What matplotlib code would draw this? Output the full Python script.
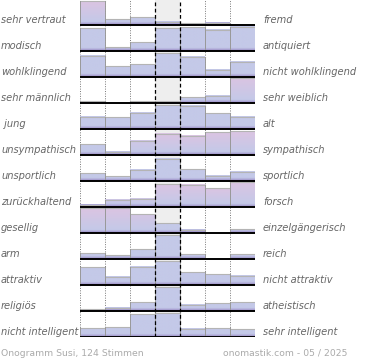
import numpy as np
import matplotlib
matplotlib.use("Agg")
import matplotlib.pyplot as plt
from matplotlib.patches import Rectangle
from matplotlib.transforms import blended_transform_factory
from matplotlib.colors import to_rgb

# Eigenschaftspaare (links / rechts)
links = ["sehr vertraut", "modisch", "wohlklingend", "sehr männlich", " jung",
         "unsympathisch", "unsportlich", "zurückhaltend", "gesellig", "arm",
         "attraktiv", "religiös", "nicht intelligent"]
rechts = ["fremd", "antiquiert", "nicht wohlklingend", "sehr weiblich", "alt",
          "sympathisch", "sportlich", "forsch", "einzelgängerisch", "reich",
          "nicht attraktiv", "atheistisch", "sehr intelligent"]

# Balkenhoehen je Zeile, 7 Stufen (in % der Zeilenhoehe)
werte = [
    [92, 22, 30, 13, 7, 9, 0],
    [87, 14, 33, 87, 91, 81, 93],
    [81, 42, 50, 92, 77, 27, 58],
    [6, 0, 6, 6, 23, 27, 98],
    [48, 46, 63, 92, 90, 60, 48],
    [41, 13, 55, 81, 74, 87, 91],
    [29, 19, 44, 85, 46, 21, 35],
    [8, 27, 31, 88, 85, 73, 98],
    [96, 96, 73, 38, 12, 0, 15],
    [23, 15, 38, 92, 19, 0, 19],
    [69, 31, 71, 92, 50, 42, 35],
    [6, 13, 33, 92, 25, 29, 33],
    [33, 38, 87, 92, 31, 33, 29],
]

# Rosa-Anteil der Balkenfarbe (0 = blau, 1 = rosa)
rosa = [
    [1, 0, 0, 0, 0, 0, 0],
    [0, 0, 0, 0, 0, 0, 0],
    [0, 0, 0, 0, 0, 0, 0],
    [0, 0, 0, 0, 0, 0, 1],
    [0, 0, 0, 0, 0, 0, 0],
    [0, 0, 0.5, 1, 1, 1, 1],
    [0, 0, 0, 0, 0, 0, 0],
    [0, 0.5, 0.5, 1, 1, 1, 1],
    [1, 1, 0.7, 0, 0, 0, 0],
    [0, 0, 0, 0, 0, 0, 0],
    [0, 0, 0, 0, 0, 0, 0],
    [0, 0, 0, 0, 0, 0, 0],
    [0, 0, 0, 0, 0, 0, 0],
]

titel_links = "Onogramm Susi, 124 Stimmen"
titel_rechts = "onomastik.com - 05 / 2025"

PINK = np.array(to_rgb("#dbc4e2"))
BLAU = np.array(to_rgb("#c4c9e8"))
LILA = np.array(to_rgb("#9482c0"))

W, H = 370, 360
fig = plt.figure(figsize=(W / 100, H / 100), dpi=100)
ax = fig.add_axes([79.5 / W, 23 / H, 175 / W, 337 / H])
nrows = len(werte)
ax.axis("off")

# mittlere Spalte grau
ax.add_patch(Rectangle((3, 0), 1, nrows, facecolor="#eeeeee", edgecolor="none", zorder=0))
for x in [0, 1, 2, 5, 6, 7]:
    ax.axvline(x, color="#777777", lw=0.7, ls=(0, (1, 1.5)), zorder=1)


def verlauf(h, p):
    n = 80
    d = np.linspace(h, 0, n)  # Abstand zur Grundlinie, oben -> unten
    top = BLAU * (1 - p) + PINK * p
    band = 0.12
    col = np.zeros((n, 1, 3))
    for k, dk in enumerate(d):
        if dk < band:
            t = dk / band
            col[k, 0] = LILA * (1 - t) + BLAU * t
        else:
            t = (dk - band) / max(h - band, 1e-6)
            col[k, 0] = BLAU * (1 - t) + top * t
    return col


for i, (reihe, prow) in enumerate(zip(werte, rosa)):
    basis = i + 1
    for j, (v, p) in enumerate(zip(reihe, prow)):
        h = v / 100
        if h <= 0:
            continue
        ax.imshow(verlauf(h, p), extent=(j, j + 1, basis, basis - h),
                  aspect="auto", interpolation="bilinear", zorder=2)
        ax.plot([j, j + 1], [basis - h, basis - h], color="#b4b4b4", lw=0.8, zorder=3)
        ax.plot([j, j], [basis, basis - h], color="#999999", lw=0.7, zorder=3)
        ax.plot([j + 1, j + 1], [basis - h, basis], color="#999999", lw=0.7, zorder=3)
    ax.plot([0, 7], [basis, basis], color="black", lw=1.4, zorder=5,
            solid_capstyle="butt")

for x in [3, 4]:
    ax.axvline(x, color="black", lw=0.9, ls=(0, (3, 2)), zorder=4)

ax.set_xlim(0, 7)
ax.set_ylim(nrows, 1 / 26)

tr = blended_transform_factory(fig.transFigure, ax.transData)
for i in range(nrows):
    y = i + 1 - 0.065
    ax.text(1 / W, y, links[i], transform=tr, ha="left", va="baseline",
            fontsize=7.1, style="italic", color="#666666", clip_on=False)
    ax.text(263 / W, y, rechts[i], transform=tr, ha="left", va="baseline",
            fontsize=7.1, style="italic", color="#666666", clip_on=False)

fig.text(1 / W, 1 - 356 / H, titel_links, ha="left", va="baseline",
         fontsize=6.7, color="#aaaaaa")
fig.text(347 / W, 1 - 356 / H, titel_rechts, ha="right", va="baseline",
         fontsize=6.7, color="#aaaaaa")

fig.savefig("out.png", dpi=100)
